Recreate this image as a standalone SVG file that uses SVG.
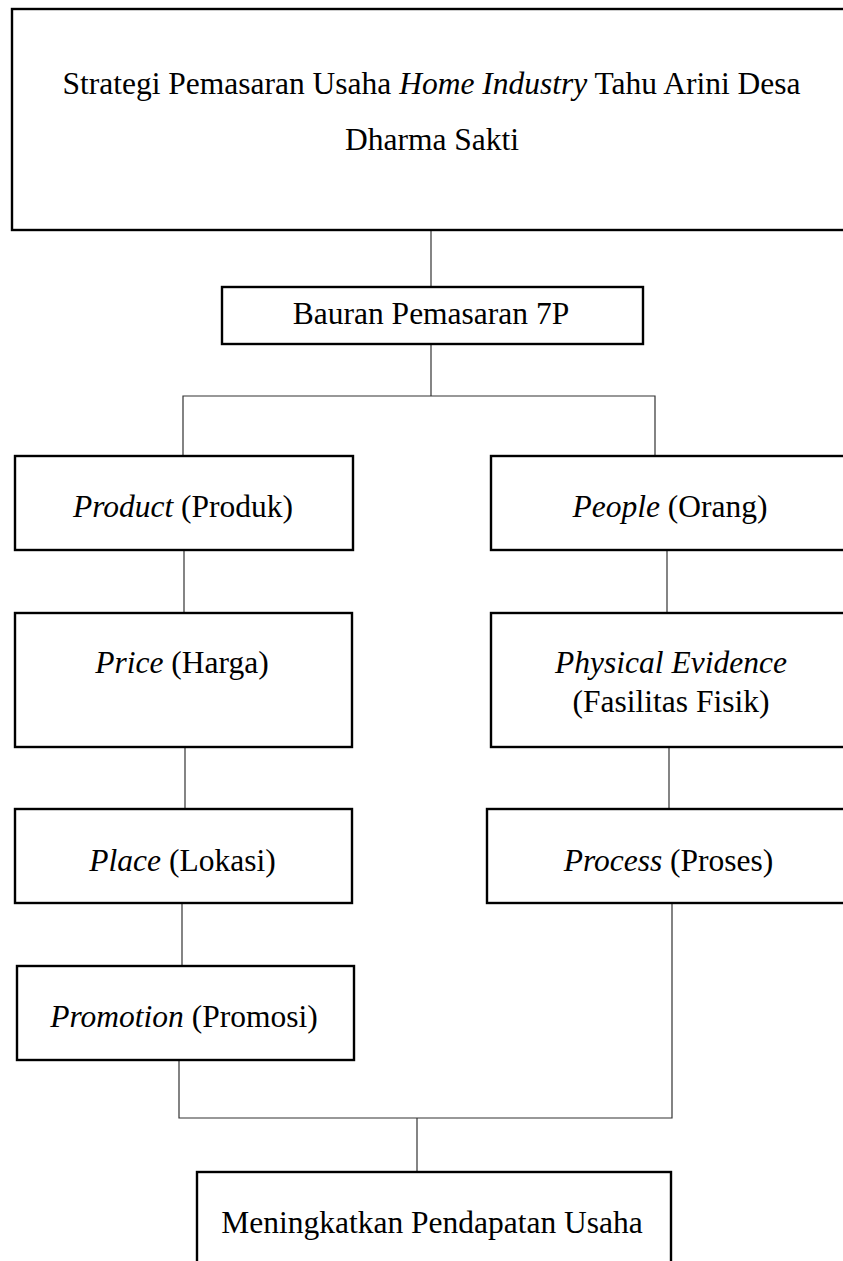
<svg xmlns="http://www.w3.org/2000/svg" width="843" height="1261" viewBox="0 0 843 1261">
<style>
.box{fill:#fff;stroke:#000;stroke-width:2.4}
.t{font-family:"Liberation Serif","Times New Roman",serif;font-size:31.5px;fill:#000;text-anchor:middle}
.i{font-style:italic}
.c{stroke:#333;stroke-width:1.2;fill:none}
</style>
<rect width="843" height="1261" fill="#fff"/>
<g id="connectors">
<line class="c" x1="431" y1="230" x2="431" y2="287"/>
<line class="c" x1="431" y1="344" x2="431" y2="396"/>
<polyline class="c" points="183,456 183,396 655,396 655,456"/>
<line class="c" x1="184" y1="550" x2="184" y2="613"/>
<line class="c" x1="667" y1="550" x2="667" y2="613"/>
<line class="c" x1="185" y1="747" x2="185" y2="809"/>
<line class="c" x1="669" y1="747" x2="669" y2="809"/>
<line class="c" x1="182" y1="903" x2="182" y2="966"/>
<polyline class="c" points="179,1060 179,1118 672,1118 672,903"/>
<line class="c" x1="417" y1="1118" x2="417" y2="1172"/>
</g>
<g id="strategi">
<rect class="box" x="12" y="9" width="845" height="221"/>
<text class="t" x="431.5" y="94">Strategi Pemasaran Usaha <tspan class="i">Home Industry</tspan> Tahu Arini Desa</text>
<text class="t" x="432" y="150">Dharma Sakti</text>
</g>
<g id="bauran">
<rect class="box" x="222" y="287" width="421" height="57"/>
<text class="t" x="431" y="324">Bauran Pemasaran 7P</text>
</g>
<g id="product">
<rect class="box" x="15" y="456" width="338" height="94"/>
<text class="t" x="183" y="517"><tspan class="i">Product</tspan> (Produk)</text>
</g>
<g id="people">
<rect class="box" x="491" y="456" width="360" height="94"/>
<text class="t" x="670" y="517"><tspan class="i">People</tspan> (Orang)</text>
</g>
<g id="price">
<rect class="box" x="15" y="613" width="337" height="134"/>
<text class="t" x="182" y="673"><tspan class="i">Price</tspan> (Harga)</text>
</g>
<g id="physical">
<rect class="box" x="491" y="613" width="360" height="134"/>
<text class="t" x="671" y="673"><tspan class="i">Physical Evidence</tspan></text>
<text class="t" x="671" y="712">(Fasilitas Fisik)</text>
</g>
<g id="place">
<rect class="box" x="15" y="809" width="337" height="94"/>
<text class="t" x="182.5" y="871"><tspan class="i">Place</tspan> (Lokasi)</text>
</g>
<g id="process">
<rect class="box" x="487" y="809" width="364" height="94"/>
<text class="t" x="668.5" y="871"><tspan class="i">Process</tspan> (Proses)</text>
</g>
<g id="promotion">
<rect class="box" x="17" y="966" width="337" height="94"/>
<text class="t" x="184" y="1027"><tspan class="i">Promotion</tspan> (Promosi)</text>
</g>
<g id="meningkatkan">
<rect class="box" x="197" y="1172" width="474" height="100"/>
<text class="t" x="432" y="1233">Meningkatkan Pendapatan Usaha</text>
</g>
</svg>
